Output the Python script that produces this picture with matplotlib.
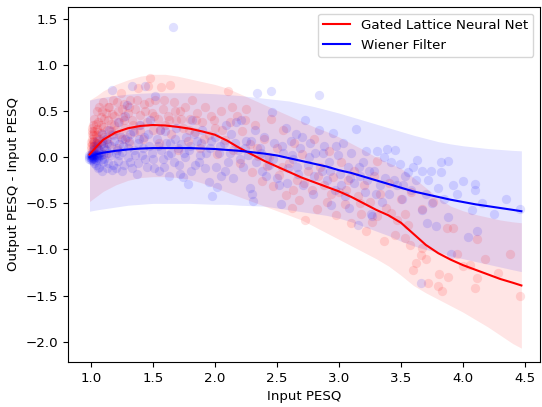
import numpy as np
import matplotlib
matplotlib.use("Agg")
from matplotlib import pyplot as plt

plt.rcParams['font.size'] = 9.6

# fitted curves and bands
grid = [0.99, 1.05, 1.1, 1.2, 1.3, 1.4, 1.5, 1.6, 1.7, 1.8, 1.9, 2.0, 2.1, 2.2, 2.3,
        2.4, 2.5, 2.6, 2.7, 2.8, 2.9, 3.0, 3.1, 3.2, 3.3, 3.4, 3.5, 3.6, 3.7, 3.8,
        3.9, 4.0, 4.1, 4.2, 4.3, 4.4, 4.47]
glnn_mean = [0.03, 0.12, 0.19, 0.27, 0.315, 0.34, 0.35, 0.345, 0.33, 0.31, 0.28, 0.245,
             0.18, 0.10, 0.03, -0.04, -0.10, -0.16, -0.22, -0.27, -0.32, -0.37, -0.43,
             -0.50, -0.57, -0.63, -0.71, -0.83, -0.95, -1.04, -1.11, -1.17, -1.22, -1.27,
             -1.32, -1.36, -1.39]
glnn_upper = [0.62, 0.67, 0.72, 0.79, 0.84, 0.88, 0.90, 0.90, 0.88, 0.85, 0.82, 0.79,
              0.75, 0.69, 0.63, 0.57, 0.51, 0.45, 0.39, 0.33, 0.28, 0.22, 0.15, 0.08,
              0.00, -0.06, -0.12, -0.22, -0.33, -0.44, -0.53, -0.58, -0.62, -0.65, -0.68,
              -0.70, -0.71]
glnn_lower = [-0.48, -0.42, -0.37, -0.30, -0.25, -0.22, -0.21, -0.21, -0.22, -0.24, -0.28,
              -0.33, -0.38, -0.43, -0.48, -0.53, -0.58, -0.63, -0.68, -0.75, -0.82, -0.89,
              -0.96, -1.03, -1.10, -1.18, -1.28, -1.39, -1.47, -1.54, -1.61, -1.68, -1.76,
              -1.84, -1.93, -2.02, -2.07]
wiener_mean = [0.0, 0.035, 0.05, 0.07, 0.085, 0.095, 0.10, 0.10, 0.10, 0.10, 0.095, 0.09,
               0.08, 0.07, 0.055, 0.04, 0.02, -0.01, -0.04, -0.07, -0.10, -0.14, -0.17,
               -0.21, -0.25, -0.29, -0.33, -0.37, -0.40, -0.43, -0.46, -0.485, -0.51, -0.53,
               -0.55, -0.57, -0.585]
wiener_upper = [0.62, 0.64, 0.65, 0.67, 0.685, 0.695, 0.70, 0.70, 0.70, 0.70, 0.695, 0.69,
                0.68, 0.67, 0.655, 0.64, 0.625, 0.61, 0.58, 0.55, 0.515, 0.48, 0.44, 0.40,
                0.36, 0.32, 0.28, 0.24, 0.205, 0.17, 0.145, 0.125, 0.11, 0.095, 0.085, 0.075,
                0.07]
wiener_lower = [-0.585, -0.57, -0.56, -0.54, -0.52, -0.51, -0.50, -0.50, -0.50, -0.50,
                -0.505, -0.51, -0.51, -0.52, -0.525, -0.53, -0.55, -0.57, -0.59, -0.61,
                -0.63, -0.66, -0.70, -0.75, -0.80, -0.85, -0.91, -0.96, -1.00, -1.03, -1.07,
                -1.10, -1.13, -1.16, -1.19, -1.22, -1.24]

# per-utterance points (input PESQ, improvement)
glnn_pts = [
    (1.00, 0.04), (1.00, 0.09), (1.00, 0.12), (1.01, 0.14), (1.01, 0.20), (1.01, 0.28),
    (1.01, 0.07), (1.01, 0.32), (1.02, 0.06), (1.02, 0.35), (1.02, 0.18), (1.02, 0.24),
    (1.03, 0.17), (1.03, 0.42), (1.03, 0.09), (1.04, 0.11), (1.04, 0.24), (1.04, 0.16),
    (1.05, 0.50), (1.05, 0.31), (1.05, 0.21), (1.06, 0.15), (1.06, 0.38), (1.07, 0.08),
    (1.07, 0.55), (1.08, 0.26), (1.08, 0.44), (1.09, 0.18), (1.10, 0.33), (1.10, 0.60),
    (1.11, 0.22), (1.12, 0.48), (1.12, 0.04), (1.13, 0.30), (1.14, 0.40), (1.15, 0.14),
    (1.15, 0.55), (1.16, 0.36), (1.17, 0.25), (1.18, 0.62), (1.19, 0.45), (1.20, 0.30),
    (1.21, 0.10), (1.22, 0.50), (1.23, 0.38), (1.24, 0.70), (1.25, 0.20), (1.26, 0.44),
    (1.27, 0.58), (1.28, 0.32), (1.30, 0.48), (1.31, 0.15), (1.32, 0.62), (1.33, 0.40),
    (1.35, 0.27), (1.36, 0.52), (1.38, 0.75), (1.39, 0.35), (1.40, 0.46), (1.42, 0.20),
    (1.43, 0.58), (1.45, 0.38), (1.46, 0.77), (1.48, 0.86), (1.49, 0.48), (1.50, 0.30),
    (1.52, 0.62), (1.54, 0.42), (1.55, 0.16), (1.57, 0.76), (1.58, 0.52), (1.60, 0.35),
    (1.62, 0.45), (1.64, 0.78), (1.65, 0.25), (1.67, 0.60), (1.69, 0.40), (1.70, 0.08),
    (1.72, 0.50), (1.74, 0.32), (1.76, 0.55), (1.78, 0.18), (1.80, 0.42), (1.82, 0.62),
    (1.84, 0.27), (1.86, 0.48), (1.88, 0.10), (1.90, 0.38), (1.92, 0.55), (1.95, 0.24),
    (1.97, 0.45), (2.00, 0.32), (2.02, 0.04), (2.05, 0.50), (2.08, 0.19), (2.11, 0.72),
    (2.12, 0.38), (2.15, 0.08), (2.18, 0.45), (2.20, -0.06), (2.22, 0.28), (2.25, 0.52),
    (2.28, 0.14), (2.30, -0.16), (2.32, 0.35), (2.35, 0.01), (2.38, -0.26), (2.40, 0.20),
    (2.42, -0.09), (2.45, 0.42), (2.47, -0.31), (2.50, 0.10), (2.52, -0.19), (2.55, 0.30),
    (2.57, -0.41), (2.60, -0.06), (2.62, -0.55), (2.64, 0.15), (2.66, -0.25), (2.68, -0.46),
    (2.70, 0.04), (2.73, -0.68), (2.75, -0.15), (2.78, -0.36), (2.80, 0.20), (2.82, -0.56),
    (2.85, -0.10), (2.88, -0.30), (2.90, -0.49), (2.92, 0.07), (2.95, -0.21), (2.98, -0.63),
    (3.00, -0.38), (3.02, -0.05), (3.05, -0.51), (3.07, -0.25), (3.10, -0.71), (3.12, -0.15),
    (3.15, -0.42), (3.18, -0.61), (3.20, -0.30), (3.22, -0.80), (3.25, -0.48), (3.28, -0.20),
    (3.31, -0.04), (3.31, -0.64), (3.33, -0.40), (3.36, -0.91), (3.38, -0.55), (3.40, -0.28),
    (3.45, -0.84), (3.47, -0.68), (3.50, -0.45), (3.53, -0.62), (3.53, -0.87), (3.56, -0.73),
    (3.58, -0.38), (3.60, -1.22), (3.62, -1.15), (3.66, -1.06), (3.67, -0.56), (3.67, -0.98),
    (3.72, -1.36), (3.76, -0.48), (3.80, -1.40), (3.81, -1.27), (3.83, -1.45), (3.87, -0.77),
    (3.88, -1.30), (3.92, -0.77), (3.95, -1.05), (4.00, -1.18), (4.06, -1.17), (4.10, -1.42),
    (4.11, -1.31), (4.11, -0.89), (4.18, -1.10), (4.28, -1.25), (4.38, -1.05), (4.46, -1.50),
    (1.00, 0.17), (1.01, 0.25), (1.02, 0.12), (1.03, 0.28), (1.04, 0.36), (1.05, 0.14),
    (1.06, 0.27), (1.07, 0.20), (1.08, 0.35), (1.09, 0.50), (1.10, 0.12), (1.11, 0.42),
    (1.13, 0.20), (1.14, 0.55), (1.16, 0.28), (1.17, 0.47), (1.19, 0.35), (1.21, 0.60),
    (1.23, 0.25), (1.25, 0.52), (1.27, 0.40), (1.29, 0.22), (1.31, 0.55), (1.34, 0.35),
    (1.37, 0.62), (1.40, 0.28), (1.44, 0.50), (1.47, 0.60), (1.51, 0.45), (1.56, 0.30),
    (1.59, 0.62), (1.63, 0.40), (1.68, 0.50), (1.73, 0.42), (1.79, 0.30), (1.85, 0.40),
    (1.91, 0.20), (1.99, 0.40), (2.06, 0.30), (2.14, 0.55), (2.24, 0.40), (2.34, 0.10),
    (2.44, 0.00), (2.54, -0.10), (2.63, -0.35), (2.72, -0.28), (2.83, -0.20), (2.94, -0.40),
    (3.06, -0.35), (3.17, -0.50), (3.27, -0.70), (3.42, -0.60), (3.57, -0.95), (3.70, -1.10),
]
wiener_pts = [
    (0.99, 0.00), (0.99, 0.02), (0.99, -0.02), (1.00, 0.01), (1.00, -0.01), (1.00, 0.03),
    (1.00, -0.03), (1.01, 0.00), (1.01, 0.02), (1.01, -0.02), (1.01, 0.04), (1.02, 0.01),
    (1.02, -0.01), (1.02, 0.03), (1.02, -0.04), (1.03, 0.00), (1.03, 0.02), (1.03, -0.02),
    (1.04, 0.01), (1.04, 0.04), (1.04, -0.03), (1.05, 0.00), (1.05, 0.02), (1.06, 0.03),
    (1.06, -0.01), (1.07, 0.01), (1.07, 0.05), (1.08, 0.02), (1.09, -0.02), (1.10, 0.04),
    (1.02, 0.08), (1.03, 0.12), (1.04, -0.08), (1.05, 0.18), (1.06, 0.09), (1.07, -0.10),
    (1.08, 0.14), (1.09, 0.25), (1.10, -0.05), (1.11, 0.10), (1.12, 0.20), (1.13, -0.12),
    (1.14, 0.05), (1.15, 0.30), (1.16, 0.12), (1.17, 0.73), (1.18, -0.08), (1.19, 0.18),
    (1.20, -0.12), (1.21, 0.08), (1.22, 0.38), (1.23, 0.02), (1.24, 0.22), (1.25, -0.15),
    (1.26, 0.12), (1.28, 0.45), (1.29, 0.57), (1.30, 0.00), (1.31, 0.18), (1.32, -0.05),
    (1.33, 0.77), (1.34, 0.28), (1.35, 0.08), (1.37, -0.18), (1.38, 0.15), (1.40, 0.35),
    (1.41, 0.02), (1.43, 0.22), (1.44, 0.77), (1.45, -0.10), (1.47, 0.12), (1.48, 0.40),
    (1.50, -0.02), (1.52, 0.67), (1.53, 0.20), (1.55, -0.15), (1.57, 0.08), (1.59, -0.10),
    (1.60, 0.28), (1.62, 0.02), (1.64, 0.15), (1.66, 1.41), (1.67, -0.05), (1.69, 0.32),
    (1.70, 0.10), (1.72, -0.18), (1.74, -0.21), (1.75, 0.05), (1.77, 0.22), (1.78, -0.29),
    (1.80, 0.12), (1.82, 0.40), (1.84, -0.08), (1.86, 0.18), (1.88, 0.02), (1.90, 0.30),
    (1.92, -0.12), (1.95, -0.27), (1.96, 0.10), (1.98, -0.42), (2.00, 0.22), (2.02, -0.32),
    (2.03, 0.05), (2.05, -0.20), (2.07, 0.15), (2.09, 0.35), (2.11, -0.05), (2.13, 0.25),
    (2.15, -0.23), (2.17, 0.38), (2.19, 0.08), (2.21, 0.40), (2.23, -0.10), (2.25, 0.18),
    (2.27, 0.02), (2.28, -0.33), (2.30, -0.40), (2.31, -0.47), (2.32, 0.30), (2.34, 0.70),
    (2.36, 0.10), (2.38, -0.15), (2.40, 0.22), (2.42, 0.00), (2.44, -0.08), (2.45, 0.72),
    (2.46, 0.49), (2.48, 0.15), (2.50, -0.22), (2.52, -0.30), (2.53, -0.51), (2.55, 0.05),
    (2.57, 0.32), (2.59, -0.12), (2.61, 0.18), (2.63, -0.02), (2.65, 0.25), (2.67, -0.18),
    (2.69, 0.10), (2.71, -0.30), (2.73, 0.40), (2.75, -0.08), (2.77, 0.16), (2.79, -0.40),
    (2.81, 0.05), (2.84, 0.68), (2.84, 0.30), (2.86, -0.15), (2.88, 0.12), (2.90, -0.25),
    (2.92, -0.05), (2.94, -0.52), (2.95, 0.26), (2.97, -0.35), (2.99, 0.02), (3.01, -0.18),
    (3.03, 0.15), (3.05, -0.42), (3.07, -0.10), (3.08, -0.55), (3.10, 0.05), (3.12, -0.28),
    (3.14, 0.31), (3.15, -0.73), (3.17, -0.20), (3.19, -0.05), (3.21, -0.38), (3.22, 0.07),
    (3.24, -0.15), (3.26, -0.61), (3.27, -0.64), (3.28, -0.15), (3.31, 0.07), (3.33, -0.30),
    (3.35, -0.48), (3.37, -0.22), (3.39, 0.09), (3.40, -0.40), (3.42, -0.05), (3.45, 0.08),
    (3.47, -0.30), (3.49, -0.07), (3.51, -0.45), (3.53, -0.20), (3.56, -0.16), (3.58, -0.35),
    (3.60, -0.10), (3.63, -0.03), (3.66, -1.36), (3.67, -0.15), (3.67, -0.57), (3.70, -0.40),
    (3.71, -0.71), (3.72, -0.25), (3.75, -0.50), (3.78, -0.74), (3.80, -0.33), (3.82, -0.05),
    (3.82, -0.16), (3.85, -0.45), (3.88, -0.04), (3.88, -0.65), (3.90, -1.05), (3.95, -0.40),
    (4.00, -0.26), (4.04, -0.86), (4.07, -0.57), (4.10, -0.29), (4.10, -0.36), (4.11, -0.80),
    (4.15, -0.50), (4.25, -0.62), (4.35, -0.45), (4.46, -0.56),
    (1.03, -0.06), (1.05, 0.10), (1.06, -0.12), (1.08, 0.06), (1.09, -0.15), (1.10, 0.15),
    (1.11, -0.02), (1.12, 0.08), (1.13, 0.16), (1.14, -0.06), (1.16, 0.02), (1.17, -0.14),
    (1.18, 0.24), (1.20, 0.05), (1.22, -0.04), (1.23, 0.14), (1.25, 0.06), (1.27, -0.08),
    (1.28, 0.20), (1.30, 0.10), (1.32, 0.25), (1.33, -0.12), (1.36, 0.02), (1.38, -0.06),
    (1.39, 0.20), (1.42, 0.10), (1.44, -0.02), (1.46, 0.25), (1.49, 0.05), (1.51, -0.12),
    (1.54, 0.12), (1.56, 0.30), (1.58, -0.02), (1.61, 0.15), (1.63, -0.20), (1.65, 0.05),
    (1.68, 0.20), (1.71, -0.08), (1.73, 0.14), (1.76, 0.00), (1.79, 0.08), (1.81, -0.15),
    (1.83, 0.25), (1.87, -0.05), (1.89, 0.15), (1.93, 0.05), (1.97, 0.18), (2.01, -0.10),
    (2.04, 0.12), (2.08, -0.15), (2.12, 0.05), (2.16, 0.15), (2.20, -0.02), (2.24, 0.10),
    (2.29, 0.18), (2.33, -0.05), (2.37, 0.05), (2.41, -0.20), (2.47, -0.02), (2.54, 0.12),
    (2.58, -0.28), (2.62, 0.02), (2.66, -0.10), (2.70, 0.22), (2.76, 0.00), (2.80, -0.20),
    (2.87, 0.05), (2.93, -0.15), (2.98, 0.12), (3.02, -0.30), (3.09, -0.22), (3.16, -0.10),
    (3.23, -0.25), (3.30, -0.40), (3.36, 0.00), (3.44, -0.25), (3.52, -0.30), (3.62, -0.25),
    (3.74, -0.15), (3.92, -0.30),
]

glnn_pts = np.array(glnn_pts)
wiener_pts = np.array(wiener_pts)

fig, ax = plt.subplots(figsize=(5.42, 4.07), dpi=100)
fig.subplots_adjust(left=0.1255, right=0.9963, bottom=0.1106, top=0.9828)

ax.fill_between(grid, glnn_lower, glnn_upper, color='red', alpha=0.1, linewidth=0)
ax.fill_between(grid, wiener_lower, wiener_upper, color='blue', alpha=0.1, linewidth=0)
ax.scatter(glnn_pts[:, 0], glnn_pts[:, 1], s=45, color='red', alpha=0.12, linewidths=0)
ax.scatter(wiener_pts[:, 0], wiener_pts[:, 1], s=45, color='blue', alpha=0.12, linewidths=0)
ax.plot(grid, glnn_mean, '-', color='red', linewidth=1.5, label='Gated Lattice Neural Net')
ax.plot(grid, wiener_mean, '-', color='blue', linewidth=1.5, label='Wiener Filter')

ax.set_xlim(0.817, 4.62)
ax.set_ylim(-2.22, 1.63)
ax.set_xlabel('Input PESQ')
ax.set_ylabel('Output PESQ - Input PESQ')
ax.legend(loc='upper right')

fig.savefig('out.png', dpi=100)
